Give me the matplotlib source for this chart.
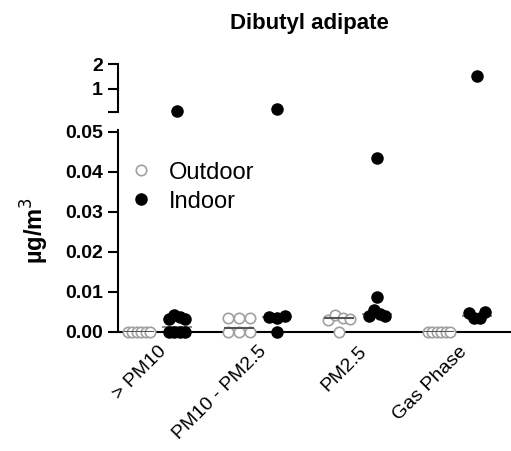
import numpy as np
import matplotlib.pyplot as plt

plt.rcParams['font.family'] = ['Liberation Sans', 'DejaVu Sans']

groups = ['> PM10', 'PM10 - PM2.5', 'PM2.5', 'Gas Phase']

# concentrations (ug/m3)
outdoor = [
    [0, 0, 0, 0, 0, 0],
    [0, 0, 0, 0.0035, 0.0035, 0.0035],
    [0, 0.003, 0.0042, 0.0036, 0.0032],
    [0, 0, 0, 0, 0, 0],
]
indoor = [
    [0, 0, 0, 0, 0.0032, 0.0042, 0.0038, 0.0033, 0.12],
    [0, 0.0038, 0.0034, 0.004, 0.2],
    [0.004, 0.0055, 0.0045, 0.004, 0.0088, 0.0435],
    [0.0048, 0.0036, 0.0034, 0.0049, 1.52],
]
out_med = [0.0, 0.001, 0.0035, 0.0]
in_med = [0.0013, 0.0037, 0.0046, 0.004]

LOW_MAX = 0.0505
TOP_MIN = 0.08

fig = plt.figure(figsize=(5.11, 4.51), dpi=100)
ax = fig.add_axes([0.231, 0.264, 0.767, 0.448])
ax_top = fig.add_axes([0.231, 0.752, 0.767, 0.106])


def spread(vals, center, width=0.2, tol=0.0016):
    # beeswarm-like horizontal spread of close values, in data order
    vals = np.asarray(vals, dtype=float)
    xs = np.full(len(vals), center)
    order = np.argsort(vals, kind='stable')
    clusters = [[order[0]]]
    for k in order[1:]:
        if vals[k] - vals[clusters[-1][0]] <= tol:
            clusters[-1].append(k)
        else:
            clusters.append([k])
    for c in clusters:
        if len(c) > 1:
            c = sorted(c)
            xs[c] = center + np.linspace(-width / 2, width / 2, len(c))
    return xs


for i in range(len(groups)):
    xo = i - 0.19
    xi = i + 0.19
    ov = np.array(outdoor[i], dtype=float)
    iv = np.array(indoor[i], dtype=float)
    ox = spread(ov, xo, width=0.22)
    ix = spread(iv, xi, width=0.16)
    for a, keep_o, keep_i in ((ax, ov <= LOW_MAX, iv <= LOW_MAX),
                              (ax_top, ov >= TOP_MIN, iv >= TOP_MIN)):
        a.plot(ox[keep_o], ov[keep_o], 'o', ms=7.5, mfc='white',
               mec='#a0a0a0', mew=1.2, clip_on=False, zorder=3,
               label='Outdoor' if i == 0 else None)
        a.plot(ix[keep_i], iv[keep_i], 'o', ms=8, color='black',
               clip_on=False, zorder=4, label='Indoor' if i == 0 else None)
    ax.hlines(out_med[i], xo - 0.15, xo + 0.15, color='#555555', lw=1.5, zorder=5)
    ax.hlines(in_med[i], xi - 0.15, xi + 0.15, color='#777777', lw=1.2, zorder=3.5)

ax.set_xlim(-0.4, 3.52)
ax_top.set_xlim(-0.4, 3.52)
ax.set_ylim(0, LOW_MAX)
ax_top.set_ylim(TOP_MIN, 2)

for a in (ax, ax_top):
    a.spines['top'].set_visible(False)
    a.spines['right'].set_visible(False)
    a.spines['left'].set_linewidth(1.5)
    a.tick_params(axis='y', width=1.5, length=7, pad=4, labelsize=14)
ax.spines['bottom'].set_linewidth(1.5)
ax_top.spines['bottom'].set_visible(False)
ax_top.set_xticks([])

ax.set_yticks([0, 0.01, 0.02, 0.03, 0.04, 0.05])
ax.set_yticklabels(['0.00', '0.01', '0.02', '0.03', '0.04', '0.05'], fontweight='bold')
ax_top.set_yticks([TOP_MIN, 1, 2])
ax_top.set_yticklabels(['', '1', '2'], fontweight='bold')
ax_top.spines['left'].set_bounds(TOP_MIN, 2)

ax.set_xticks(range(len(groups)))
ax.set_xticklabels(groups, rotation=45, ha='right', rotation_mode='anchor', fontsize=14)
ax.tick_params(axis='x', length=0, pad=8)

ax.set_ylabel('µg/m$^3$', fontsize=17, fontweight='bold', labelpad=10)
fig.text(0.605, 0.948, 'Dibutyl adipate', ha='center', va='center',
         fontsize=16, fontweight='bold')

ax.legend(loc='upper left', bbox_to_anchor=(-0.045, 0.925), frameon=False,
          fontsize=17, handletextpad=0.2, labelspacing=0.3, borderaxespad=0.3)

plt.savefig('out.png', dpi=100)
